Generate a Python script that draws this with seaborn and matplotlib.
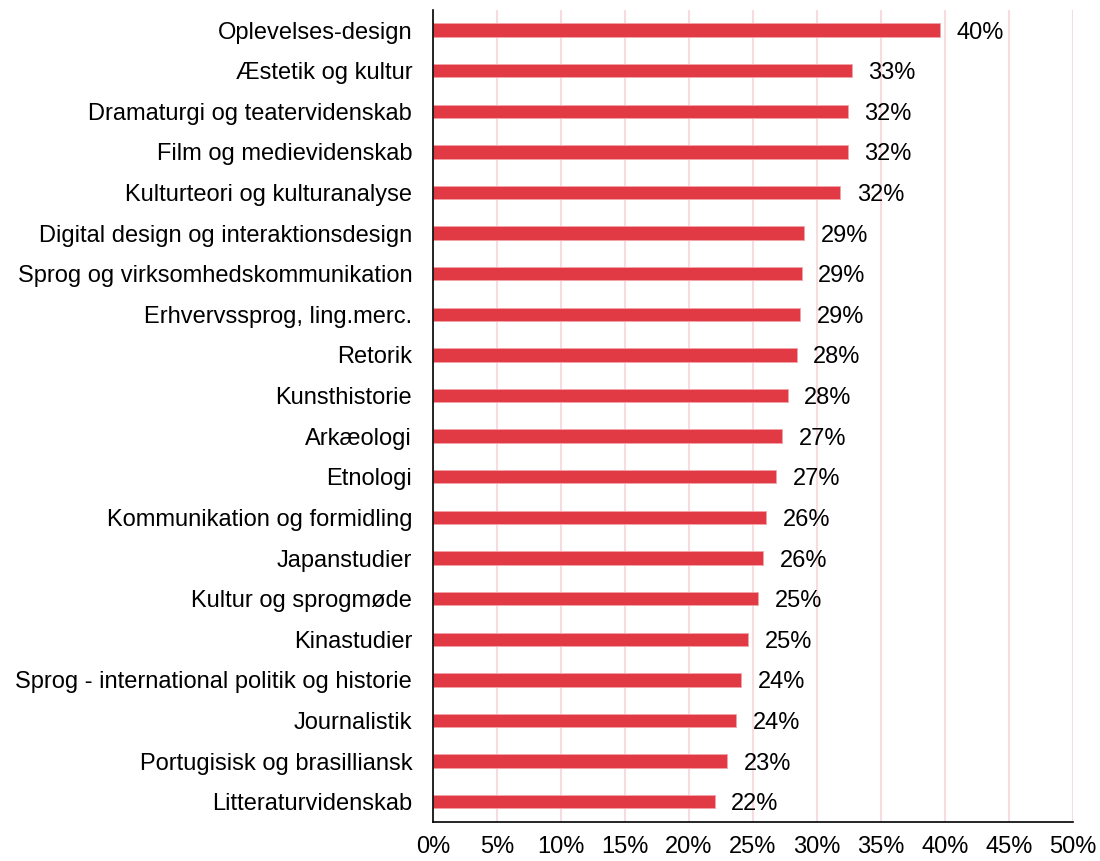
import seaborn as sns
import matplotlib.pyplot as plt
import pandas as pd
from matplotlib.ticker import PercentFormatter

# uddannelser og andel (procent), aflaest fra figuren
fag = [
    "Oplevelses-design",
    "Æstetik og kultur",
    "Dramaturgi og teatervidenskab",
    "Film og medievidenskab",
    "Kulturteori og kulturanalyse",
    "Digital design og interaktionsdesign",
    "Sprog og virksomhedskommunikation",
    "Erhvervssprog, ling.merc.",
    "Retorik",
    "Kunsthistorie",
    "Arkæologi",
    "Etnologi",
    "Kommunikation og formidling",
    "Japanstudier",
    "Kultur og sprogmøde",
    "Kinastudier",
    "Sprog - international politik og historie",
    "Journalistik",
    "Portugisisk og brasilliansk",
    "Litteraturvidenskab",
]
andel = [39.6, 32.7, 32.4, 32.4, 31.8, 29.0, 28.8, 28.7, 28.4, 27.7,
         27.3, 26.8, 26.0, 25.8, 25.4, 24.6, 24.1, 23.7, 23.0, 22.0]
xticks = [0, 5, 10, 15, 20, 25, 30, 35, 40, 45, 50]

data = pd.DataFrame({"Uddannelse": fag, "Andel": andel})

sns.set_style("white")
plt.rcParams['font.family'] = ['Liberation Sans', 'DejaVu Sans']
plt.rcParams['text.color'] = 'black'
plt.rcParams['xtick.color'] = 'black'
plt.rcParams['ytick.color'] = 'black'

fig = plt.figure(figsize=(11, 8.61), dpi=100)
ax = fig.add_axes([0.3936, 0.0453, 0.5819, 0.9434])

sns.barplot(data=data, x="Andel", y="Uddannelse", orient="h", ax=ax,
            color="#e23a44", saturation=1, width=0.33,
            edgecolor="#f1a4a9", linewidth=0.6)

# etiketter ved enden af hver bjaelke
labels = ax.bar_label(ax.containers[0],
                      labels=[f"{round(v):.0f}%" for v in andel],
                      padding=12, fontsize=17, color="black")
for t in labels:
    t.set_va("center_baseline")

ax.set_xlim(0, 50)
ax.set_xticks(xticks)
ax.xaxis.set_major_formatter(PercentFormatter(decimals=0))
ax.grid(axis="x", color="#f7dcdf", linewidth=1.5)
ax.set_axisbelow(True)

ax.set_xlabel("")
ax.set_ylabel("")
ax.tick_params(axis="both", length=0, labelsize=17, labelcolor="black")
ax.tick_params(axis="x", pad=10)
ax.tick_params(axis="y", pad=15)

for s in ["top", "right"]:
    ax.spines[s].set_visible(False)
for s in ["left", "bottom"]:
    ax.spines[s].set_color("black")
    ax.spines[s].set_linewidth(1.2)

plt.savefig("out.png", dpi=100)
